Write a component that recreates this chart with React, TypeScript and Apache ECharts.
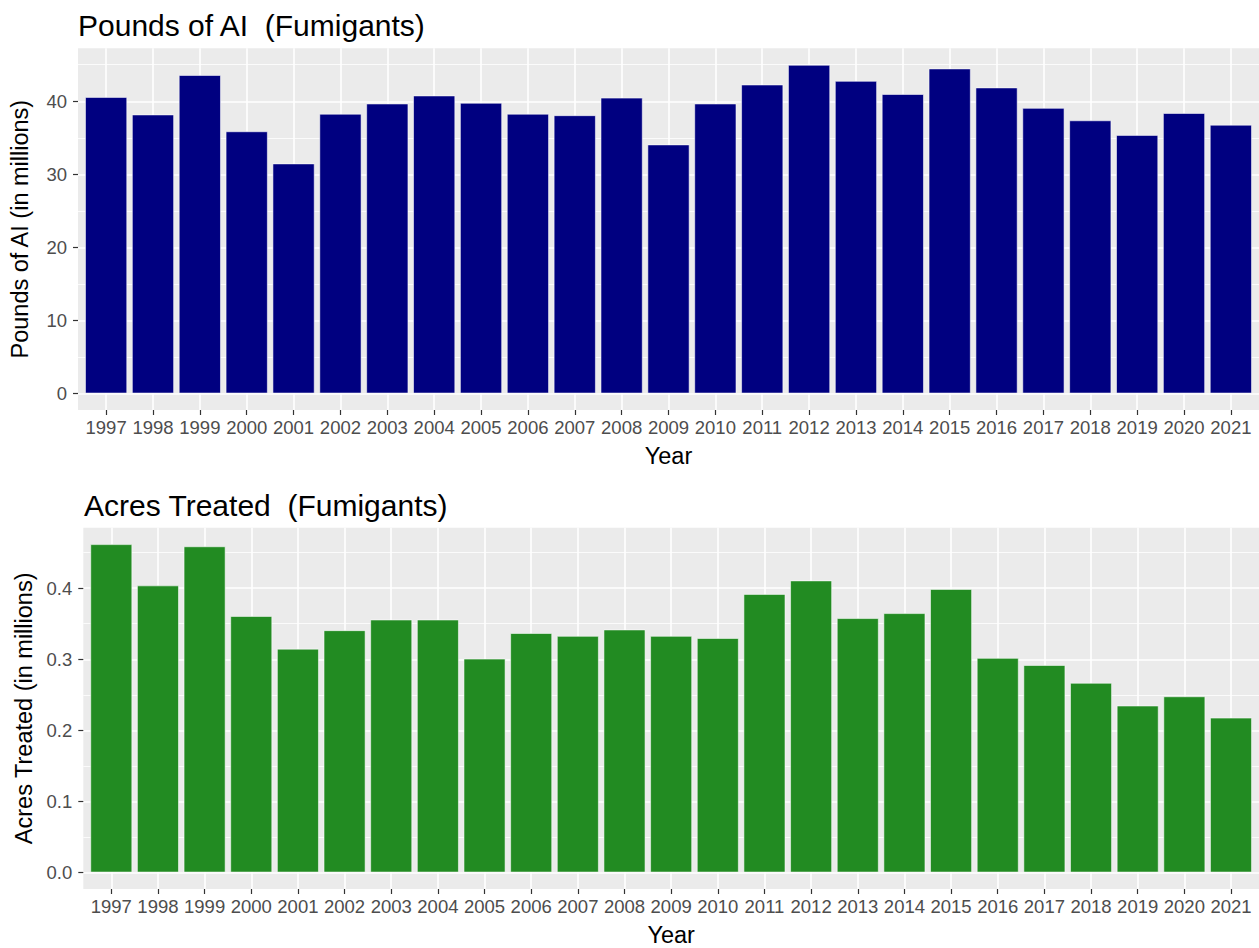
import React, { useEffect, useRef } from "react";
import * as echarts from "echarts";

const years = [
  "1997", "1998", "1999", "2000", "2001", "2002", "2003", "2004", "2005",
  "2006", "2007", "2008", "2009", "2010", "2011", "2012", "2013", "2014",
  "2015", "2016", "2017", "2018", "2019", "2020", "2021",
];

const poundsAI = [
  40.6, 38.2, 43.6, 35.9, 31.5, 38.3, 39.7, 40.8, 39.8, 38.3, 38.1, 40.5,
  34.1, 39.7, 42.3, 45.0, 42.8, 41.0, 44.5, 41.9, 39.1, 37.4, 35.4, 38.4, 36.8,
];

const acresTreated = [
  0.462, 0.404, 0.459, 0.361, 0.315, 0.341, 0.356, 0.356, 0.301, 0.337, 0.333,
  0.342, 0.333, 0.330, 0.392, 0.411, 0.358, 0.365, 0.399, 0.302, 0.292, 0.267,
  0.235, 0.248, 0.218,
];

const poundsMajorTicks = [0, 10, 20, 30, 40];
const poundsMinorTicks = [5, 15, 25, 35, 45];
const acresMajorTicks = [0, 0.1, 0.2, 0.3, 0.4];
const acresMinorTicks = [0.05, 0.15, 0.25, 0.35, 0.45];

const FONT = "'Liberation Sans', Arial, Helvetica, sans-serif";
const idx = years.map((_, i) => i);

function buildPanel(
  gridIndex: number,
  values: number[],
  majors: number[],
  minors: number[],
  color: string,
  yName: string,
  labelFmt: (v: number) => string,
  barWidth: number
) {
  const maxV = Math.max(...values);
  const yMax = maxV * 1.05;
  const yMin = -maxV * 0.05;
  const xAxis = {
    type: "value",
    gridIndex,
    position: "bottom",
    min: -0.6,
    max: years.length - 1 + 0.6,
    name: "Year",
    nameLocation: "middle",
    nameGap: 34,
    nameTextStyle: { fontSize: 23.5, color: "#000", fontFamily: FONT },
    axisLine: { show: true, onZero: false, lineStyle: { color: "#333", opacity: 0 } },
    axisTick: {
      show: true,
      inside: false,
      length: 5,
      customValues: idx,
      lineStyle: { color: "#333333", width: 1.2, opacity: 1 },
    },
    axisLabel: {
      customValues: idx,
      formatter: (v: number) => years[Math.round(v)],
      fontSize: 18.5,
      color: "#4D4D4D",
      fontFamily: FONT,
      margin: 8,
    },
    splitLine: { show: true, lineStyle: { color: "#FFFFFF", width: 1.6 } },
  };
  const yMajor = {
    type: "value",
    gridIndex,
    position: "left",
    min: yMin,
    max: yMax,
    name: yName,
    nameLocation: "middle",
    nameRotate: 90,
    nameGap: 46,
    nameTextStyle: { fontSize: 23.5, color: "#000", fontFamily: FONT },
    axisLine: { show: true, onZero: false, lineStyle: { color: "#333", opacity: 0 } },
    axisTick: {
      show: true,
      inside: false,
      length: 5,
      customValues: majors,
      lineStyle: { color: "#333333", width: 1.2, opacity: 1 },
    },
    axisLabel: {
      customValues: majors,
      formatter: labelFmt,
      fontSize: 18.5,
      color: "#4D4D4D",
      fontFamily: FONT,
      margin: 11,
    },
    splitLine: { show: true, lineStyle: { color: "#FFFFFF", width: 1.6 } },
  };
  const yMinor = {
    type: "value",
    gridIndex,
    min: yMin,
    max: yMax,
    position: "left",
    axisLine: { show: false, onZero: false },
    axisTick: { show: false, customValues: minors },
    axisLabel: { show: false, customValues: minors },
    splitLine: { show: true, lineStyle: { color: "#FFFFFF", width: 0.8 } },
  };
  const series = {
    type: "bar",
    xAxisIndex: gridIndex,
    yAxisIndex: gridIndex * 2,
    barWidth,
    data: idx.map((i) => [i, values[i]]),
    itemStyle: { color, borderColor: "rgba(255,255,255,0.55)", borderWidth: 1 },
    z: 3,
  };
  return { xAxis, yMajor, yMinor, series };
}

export default function App() {
  const ref = useRef<HTMLDivElement>(null);
  useEffect(() => {
    if (!ref.current) return;
    const chart = echarts.init(ref.current, undefined, { renderer: "svg" });
    const top = buildPanel(
      0,
      poundsAI,
      poundsMajorTicks,
      poundsMinorTicks,
      "#000080",
      "Pounds of AI (in millions)",
      (v: number) => String(Math.round(v)),
      42.3
    );
    const bottom = buildPanel(
      1,
      acresTreated,
      acresMajorTicks,
      acresMinorTicks,
      "#228B22",
      "Acres Treated (in millions)",
      (v: number) => v.toFixed(1),
      42.1
    );
    chart.setOption({
      animation: false,
      backgroundColor: "#FFFFFF",
      title: [
        {
          text: "Pounds of AI  (Fumigants)",
          left: 78,
          top: 10,
          padding: 0,
          textStyle: { fontSize: 30, fontWeight: "normal", color: "#000", fontFamily: FONT },
        },
        {
          text: "Acres Treated  (Fumigants)",
          left: 84,
          top: 490,
          padding: 0,
          textStyle: { fontSize: 30, fontWeight: "normal", color: "#000", fontFamily: FONT },
        },
      ],
      grid: [
        {
          left: 77.4,
          top: 48.3,
          width: 1183.1,
          height: 361.7,
          show: true,
          backgroundColor: "#EBEBEB",
          borderWidth: 0,
        },
        {
          left: 83.3,
          top: 527.7,
          width: 1177.7,
          height: 361.3,
          show: true,
          backgroundColor: "#EBEBEB",
          borderWidth: 0,
        },
      ],
      xAxis: [top.xAxis, bottom.xAxis],
      yAxis: [top.yMajor, top.yMinor, bottom.yMajor, bottom.yMinor],
      series: [top.series, bottom.series],
    });
    return () => chart.dispose();
  }, []);
  return (
    <div
      ref={ref}
      style={{ position: "fixed", left: 0, top: 0, width: 1259, height: 948, background: "#fff" }}
    />
  );
}
